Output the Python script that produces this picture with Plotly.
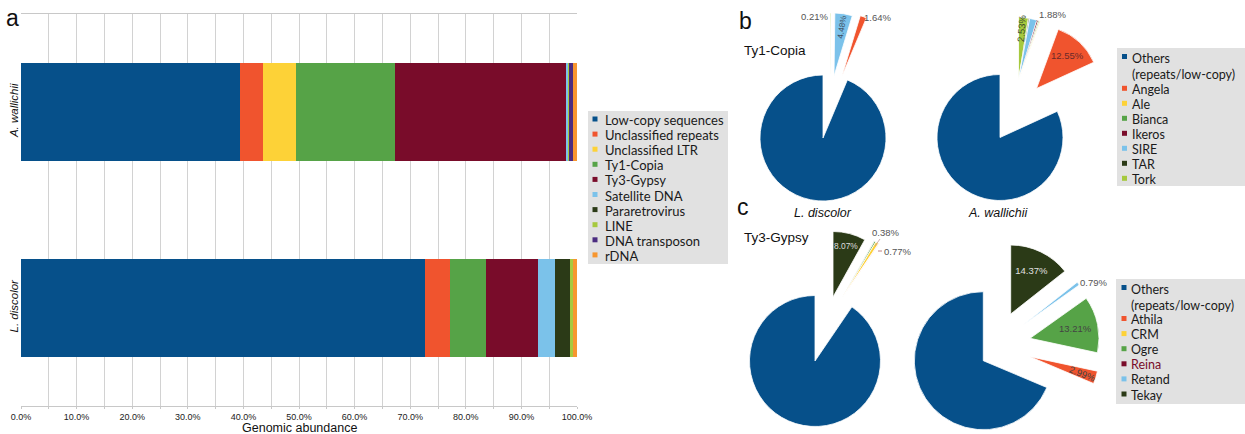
import plotly.graph_objects as go

W, H = 1245, 434

# ---------------- data ----------------
bar_species = ["L. discolor", "A. wallichii"]
bar_categories = ["Low-copy sequences", "Unclassified repeats", "Unclassified LTR", "Ty1-Copia",
                  "Ty3-Gypsy", "Satellite DNA", "Pararetrovirus", "LINE", "DNA transposon", "rDNA"]
l_discolor_abund = [72.6, 4.6, 0.0, 6.4, 9.3, 3.2, 2.7, 0.4, 0.0, 0.8]
a_wallichii_abund = [39.4, 4.1, 6.0, 17.8, 30.9, 0.2, 0.0, 0.2, 0.6, 0.8]
x_ticks = [0, 10, 20, 30, 40, 50, 60, 70, 80, 90, 100]

ty1_lineages = ["Others (repeats/low-copy)", "Angela", "Ale", "Bianca", "Ikeros", "SIRE", "TAR", "Tork"]
ty1_l_discolor = [93.67, 1.64, 0.0, 0.0, 0.0, 4.48, 0.0, 0.21]
ty1_a_wallichii = [81.84, 12.55, 0.2, 0.3, 0.4, 1.88, 0.3, 2.53]

ty3_lineages = ["Others (repeats/low-copy)", "Athila", "CRM", "Ogre", "Reina", "Retand", "Tekay"]
ty3_l_discolor = [90.48, 0.1, 0.77, 0.38, 0.1, 0.1, 8.07]
ty3_a_wallichii = [68.64, 2.99, 0.0, 13.21, 0.0, 0.79, 14.37]

# ---------------- styles ----------------
BLUE, RED, YEL, GRN, MAR, LBL, DRK, LGR, PUR, ORG = (
    "#06508a", "#f0542e", "#fdd237", "#56a347", "#790c2a", "#7bc2ea", "#2b3a17", "#a6c93e", "#4b2c80", "#f7962f")
bar_colors = [BLUE, RED, YEL, GRN, MAR, LBL, DRK, LGR, PUR, ORG]
ty1_colors = [BLUE, RED, YEL, GRN, MAR, LBL, DRK, LGR]
ty3_colors = [BLUE, RED, YEL, GRN, MAR, LBL, DRK]

ARIAL = "Liberation Sans, Arial, sans-serif"
NARROW = "Liberation Sans Narrow, Liberation Sans, Arial, sans-serif"
HUMAN = "Lato, Open Sans, sans-serif"


def px(x):
    return x / W


def py(y):
    return 1 - y / H


fig = go.Figure()

# ---------------- panel a: stacked bars ----------------
for i, cat in enumerate(bar_categories):
    fig.add_trace(go.Bar(
        y=bar_species, x=[l_discolor_abund[i], a_wallichii_abund[i]], orientation="h",
        name=cat, marker=dict(color=bar_colors[i], line_width=0), showlegend=False,
        xaxis="x", yaxis="y", hoverinfo="name+x"))


# ---------------- panels b, c: pies ----------------
def add_pie(labels, values, colors, center, r, pieces):
    """Slices run clockwise from 12 o'clock in reverse series order (last lineage first,
    'Others' last). Each group of exploded slices is drawn as its own pie, shifted outward."""
    cx, cy = center
    n = len(values)
    order = list(range(n))[::-1]
    groups = [([0], 0, 0, "horizontal", {})] + pieces
    for idx, dx, dy, orient, txt in groups:
        show = {i: (i in idx) and values[i] > 0 for i in range(n)}
        fig.add_trace(go.Pie(
            labels=[labels[i] for i in order], values=[values[i] for i in order],
            sort=False, direction="clockwise", rotation=0,
            marker=dict(colors=[colors[i] if show[i] else "rgba(0,0,0,0)" for i in order],
                        line=dict(color=["white" if show[i] else "rgba(0,0,0,0)" for i in order],
                                  width=0.8)),
            texttemplate=["%{percent:.2%}" if i in txt else "" for i in order],
            textposition=["inside" if i in txt else "none" for i in order],
            insidetextorientation=orient,
            textfont=dict(family=NARROW, size=9.5, color=[txt.get(i, "#444") for i in order]),
            domain=dict(x=[px(cx + dx - r), px(cx + dx + r)], y=[py(cy + dy + r), py(cy + dy - r)]),
            showlegend=False, hoverinfo="label+percent"))


add_pie(ty1_lineages, ty1_l_discolor, ty1_colors, (823, 138), 63,
        [([7], 7, -62, "radial", {}),
         ([5], 11, -62, "radial", {5: "#3a4a5a"}),
         ([1], 19, -62, "horizontal", {})])
add_pie(ty1_lineages, ty1_a_wallichii, ty1_colors, (1000, 137.5), 63,
        [([2, 3, 4, 5, 6, 7], 18.5, -57, "radial", {}),
         ([1], 36.5, -49, "horizontal", {1: "#6a2a2a"})])
add_pie(ty3_lineages, ty3_l_discolor, ty3_colors, (815, 361), 65.5,
        [([6], 18, -64, "horizontal", {6: "#dddddd"}),
         ([1, 2, 3, 4, 5], 27, -63, "auto", {})])
add_pie(ty3_lineages, ty3_a_wallichii, ty3_colors, (983.3, 360.7), 69,
        [([6], 27.4, -46.7, "horizontal", {6: "#e0e0e0"}),
         ([5], 39.7, -35.7, "auto", {}),
         ([3], 46.7, -22.4, "horizontal", {}),
         ([1], 46.7, -4, "tangential", {})])

# percentage labels placed by hand (outside ones get leader lines)
outside = [
    (ty1_l_discolor[7], 829, 15, -15, 1, "#888"),
    (ty1_l_discolor[1], 863, 21, 14, -3, "#888"),
    (ty1_a_wallichii[5], 1036, 21, 16, -6, "#888"),
    (ty3_l_discolor[3], 875, 246, 10, -14, "#c79a9a"),
    (ty3_l_discolor[2], 878, 251, 19, 0, "#b06060"),
    (ty3_a_wallichii[5], 1079, 284, 14, -2, "#888"),
]
for v, x, y, ax, ay, lc in outside:
    fig.add_annotation(x=px(x), y=py(y), xref="paper", yref="paper", text=f"{v:.2f}%",
                       showarrow=True, arrowhead=0, arrowwidth=0.8, arrowcolor=lc, ax=ax, ay=ay,
                       font=dict(family=NARROW, size=9.5, color="#555"))

inside = [
    (ty1_a_wallichii[7], 1021.5, 28.5, -86, "#3a4a2a"),
    (ty3_a_wallichii[3], 1075, 328, 0, "#444444"),
    (ty3_a_wallichii[1], 1082, 373, 21, "#444444"),
]
for v, x, y, ang, c in inside:
    fig.add_annotation(x=px(x), y=py(y), xref="paper", yref="paper", text=f"{v:.2f}%",
                       showarrow=False, textangle=ang, xanchor="center", yanchor="middle",
                       font=dict(family=NARROW, size=9.5, color=c))


# ---------------- legends ----------------
def add_legend(labels, colors, box, ys, mx, tx, size, label_colors=None, two_line_first=False):
    x0, y0, x1, y1 = box
    fig.add_shape(type="rect", xref="paper", yref="paper", x0=px(x0), x1=px(x1),
                  y0=py(y1), y1=py(y0), fillcolor="#e1e1e1", line_width=0, layer="below")
    for k, (lab, col, y) in enumerate(zip(labels, colors, ys)):
        fig.add_shape(type="rect", xref="paper", yref="paper", x0=px(mx - 2.5), x1=px(mx + 2.5),
                      y0=py(y + 1.5), y1=py(y - 3.5), fillcolor=col, line_width=0)
        text, ty = lab, y
        if two_line_first and k == 0:
            text = lab.replace(" (", "<br>(")
            ty = y + 8.5
        tc = label_colors[k] if label_colors else "#1a1a1a"
        fig.add_annotation(x=px(tx), y=py(ty), xref="paper", yref="paper", text=text,
                           xanchor="left", yanchor="middle", align="left", showarrow=False,
                           font=dict(family=HUMAN, size=size, color=tc))


add_legend(bar_categories, bar_colors, (588, 111, 728, 264),
           [120 + 15.1 * i for i in range(10)], 595, 603, 13)
add_legend(ty1_lineages, ty1_colors, (1117, 48, 1245, 186),
           [57.5] + [89.3 + 15 * i for i in range(7)], 1124.5, 1129.5, 12.5, two_line_first=True)
add_legend(ty3_lineages, ty3_colors, (1116, 279, 1245, 404),
           [288.5] + [319.5 + 15.1 * i for i in range(6)], 1124, 1128.5, 12.5,
           label_colors=["#1a1a1a", "#1a1a1a", "#1a1a1a", "#1a1a1a", MAR, "#1a1a1a", "#1a1a1a"],
           two_line_first=True)

# ---------------- panel letters and titles ----------------
texts = [
    ("a", 12, 18, 23, ARIAL, False),
    ("b", 745, 21, 23, ARIAL, False),
    ("c", 743, 207, 23, ARIAL, False),
    ("Ty1-Copia", 775, 50, 13.5, ARIAL, False),
    ("Ty3-Gypsy", 776, 237, 13.5, ARIAL, False),
    ("L. discolor", 823, 213, 12.5, ARIAL, True),
    ("A. wallichii", 998, 213, 12.5, ARIAL, True),
    ("Genomic abundance", 299, 427.5, 12.5, ARIAL, False),
]
for t, x, y, s, fam, it in texts:
    fig.add_annotation(x=px(x), y=py(y), xref="paper", yref="paper",
                       text=f"<i>{t}</i>" if it else t, showarrow=False,
                       xanchor="center", yanchor="middle", font=dict(family=fam, size=s, color="#111"))

# ---------------- layout ----------------
fig.update_layout(
    template="none", width=W, height=H, margin=dict(l=0, r=0, t=0, b=0),
    paper_bgcolor="white", plot_bgcolor="white", barmode="stack", bargap=0.5,
    showlegend=False,
    xaxis=dict(domain=[px(21), px(577)], range=[0, 100], tickmode="array", tickvals=x_ticks,
               ticktext=[f"{v:.1f}%" for v in x_ticks], showgrid=True, gridcolor="#d2d2d2",
               gridwidth=1, showline=True, linecolor="#c8c8c8", mirror=True, ticks="outside",
               ticklen=2, tickcolor="#c8c8c8", zeroline=False,
               minor=dict(dtick=5, tick0=0, showgrid=True, gridcolor="#d2d2d2", ticks="outside",
                          ticklen=2, tickcolor="#c8c8c8"),
               tickfont=dict(family=NARROW, size=9, color="#222")),
    yaxis=dict(domain=[py(406), py(14)], categoryorder="array", categoryarray=bar_species,
               tickvals=bar_species, ticktext=[f"<i>{s}</i>" for s in bar_species],
               tickangle=-90, showgrid=False, zeroline=False, showline=False, ticks="",
               tickfont=dict(family=ARIAL, size=11.5, color="#111")),
)

fig.write_html("out.html", config={"displayModeBar": False},
               post_script="document.body.style.margin='0';document.body.style.overflow='hidden';")
